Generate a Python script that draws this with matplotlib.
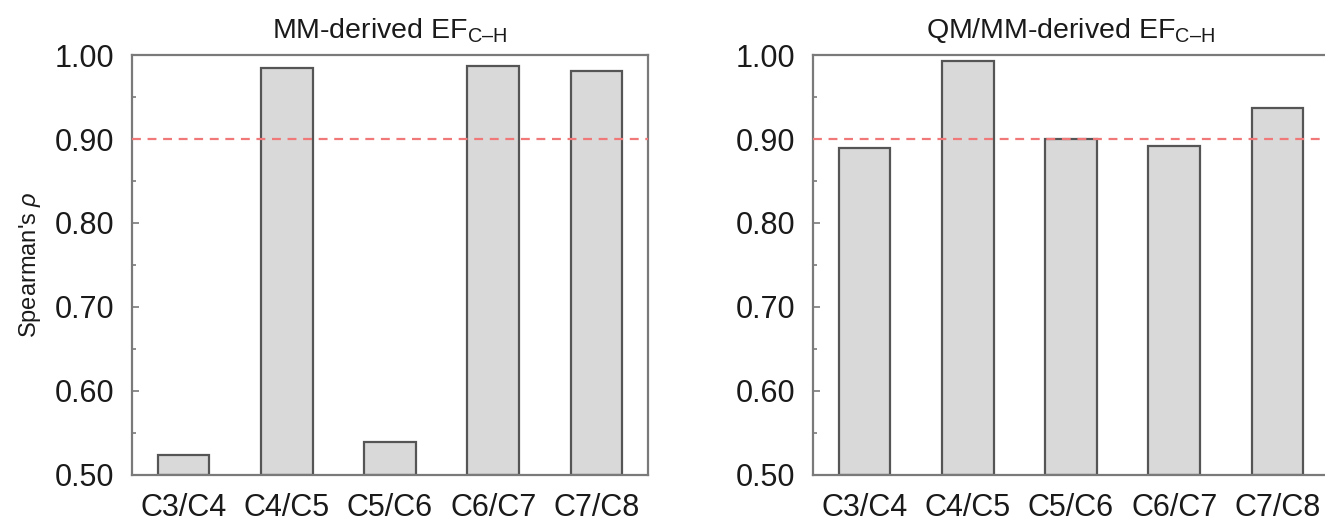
import matplotlib
matplotlib.use("Agg")
import matplotlib.pyplot as plt
from matplotlib.ticker import MultipleLocator, FormatStrFormatter

# data
categories = ["C3/C4", "C4/C5", "C5/C6", "C6/C7", "C7/C8"]
mm_rho = [0.524, 0.985, 0.539, 0.987, 0.981]
qmmm_rho = [0.889, 0.993, 0.900, 0.892, 0.937]
threshold = 0.90
titles = ["MM-derived EF$_{\\mathregular{C\u2013H}}$",
          "QM/MM-derived EF$_{\\mathregular{C\u2013H}}$"]

plt.rcParams["font.family"] = ["Liberation Sans", "DejaVu Sans"]
plt.rcParams["mathtext.fontset"] = "custom"
plt.rcParams["mathtext.rm"] = "Liberation Sans"
plt.rcParams["mathtext.it"] = "Liberation Sans:italic"

SPINE = "#7a7a7a"
EDGE = "#555555"
FILL = "#d9d9d9"
TEXT = "#1a1a1a"

fig = plt.figure(figsize=(13.25, 5.23), dpi=100)
W, H = 1325, 523
ax_w, ax_h = 516 / W, 420 / H
bottom = (H - 475) / H
ax1 = fig.add_axes([132 / W, bottom, ax_w, ax_h])
ax2 = fig.add_axes([813 / W, bottom, ax_w, ax_h])

x = list(range(len(categories)))
for ax, vals, title in zip([ax1, ax2], [mm_rho, qmmm_rho], titles):
    ax.bar(x, [v - 0.5 for v in vals], bottom=0.5, width=0.5,
           color=FILL, edgecolor=EDGE, linewidth=1.6, zorder=2)
    ax.axhline(threshold, color="#f07878", linestyle=(0, (4, 3)),
               linewidth=1.6, zorder=3)
    ax.set_xlim(-0.5, 4.5)
    ax.set_ylim(0.5, 1.0)
    ax.set_xticks(x)
    ax.set_xticklabels(categories)
    ax.yaxis.set_major_locator(MultipleLocator(0.1))
    ax.yaxis.set_minor_locator(MultipleLocator(0.05))
    ax.yaxis.set_major_formatter(FormatStrFormatter("%.2f"))
    ax.tick_params(axis="both", which="major", direction="in", length=5,
                   width=1.2, color=SPINE, labelsize=22, labelcolor=TEXT)
    ax.tick_params(axis="y", which="major", pad=13)
    ax.tick_params(axis="x", which="major", pad=13)
    ax.tick_params(axis="y", which="minor", direction="in", length=3,
                   width=1.2, color=SPINE)
    for s in ax.spines.values():
        s.set_color(SPINE)
        s.set_linewidth(1.6)
    ax.set_title(title, fontsize=20.5, pad=12, color=TEXT)

ax1.set_ylabel("Spearman's $\\it{\\rho}$", fontsize=17, labelpad=8, color=TEXT)

fig.savefig("out.png", dpi=100)
